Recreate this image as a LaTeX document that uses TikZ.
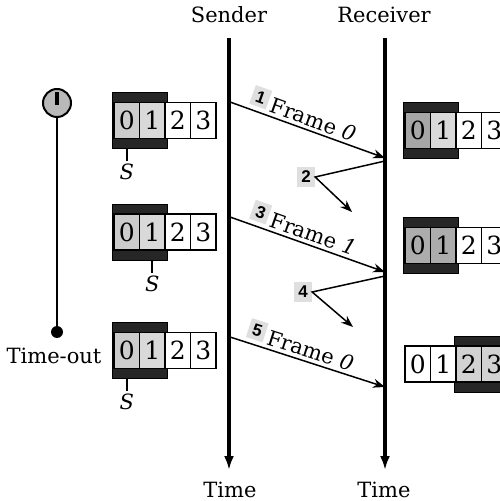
\documentclass[tikz,border=0pt]{standalone}
\usepackage{fontspec}
\setmainfont{DejaVu Serif}
\setsansfont{Liberation Sans}
\usetikzlibrary{arrows.meta}

\newcommand\numbadge[1]{{\setlength\fboxsep{2pt}\colorbox{gray!25}{\sffamily\bfseries\fontsize{8.5}{8.5}\selectfont #1}}}

\begin{document}
\begin{tikzpicture}[x=0.5pt, y=-0.5pt,
    cell/.style={draw, line width=0.8pt, minimum width=12.75pt, minimum height=18pt, inner sep=0pt, font=\fontsize{12.5}{12.5}\selectfont},
    win/.style={draw=black, fill=black!85},
    num/.style={fill=gray!25, inner sep=2pt, font=\sffamily\bfseries\fontsize{8.5}{8.5}\selectfont},
    lbl/.style={font=\fontsize{10.5}{12}\selectfont},
    msg/.style={-{Stealth[length=6pt, width=4.5pt]}, line width=0.75pt},
    timeline/.style={-{Latex[length=7pt, width=5pt]}, line width=1.6pt}]
    \useasboundingbox (0,0) rectangle (499,501);

    % 时间轴
    \node[lbl] (snd) at (229,15) {Sender};
    \node[lbl] (rcv) at (384,15) {Receiver};
    \node[lbl] (st) at (230,490) {Time};
    \node[lbl] (rt) at (384,490) {Time};
    \coordinate (s0) at (229,38);
    \coordinate (s1) at (229,470);
    \coordinate (r0) at (385,38);
    \coordinate (r1) at (385,470);
    \draw[timeline] (s0) -- (s1);
    \draw[timeline] (r0) -- (r1);

    % 计时器
    \node[circle, draw, line width=1pt, fill=gray!55, minimum size=14pt, inner sep=0pt] (clk) at (57,103) {};
    \draw[line width=1.6pt] ([yshift=-1pt]clk.center) -- ([yshift=-2pt]clk.north);
    \node[circle, fill, minimum size=6pt, inner sep=0pt] (tmo) at (57,332) {};
    \draw[line width=0.8pt] (clk) -- (tmo);
    \node[lbl] (tout) at (54,356) {Time-out};

    % 发送窗口
    \foreach \r/\y in {1/120.5, 2/232, 3/350.5} {
        \draw[win] (112,\y-28) rectangle (167,\y+28);
        \foreach \i/\c in {0/gray!40, 1/gray!30, 2/white, 3/white}
            \node[cell, fill=\c] (s\r\i) at ({126.75+25.5*\i},\y) {\i};
    }
    \foreach \r/\i in {1/0, 2/1, 3/0}
        \draw[line width=0.8pt] ([yshift=-5pt]s\r\i.south) -- ([yshift=-11pt]s\r\i.south)
            node[below, inner sep=1pt, lbl] (S\r) {\textit{S}};

    % 接收窗口
    \foreach \r/\y/\fx/\ca/\cb/\cc/\cd in {1/130.5/403/gray!70/gray!30/white/white,
            2/245.5/403/gray!65/gray!65/white/white,
            3/364/454/white/white/gray!35/gray!35} {
        \draw[win] (\fx,\y-28) rectangle (\fx+55,\y+28);
        \foreach \i/\c in {0/\ca, 1/\cb, 2/\cc, 3/\cd}
            \node[cell, fill=\c] (w\r\i) at ({417.75+25.5*\i},\y) {\i};
    }

    % 帧
    \coordinate (f1a) at (230,102);
    \coordinate (f1b) at (385,158);
    \coordinate (f3a) at (230,217);
    \coordinate (f3b) at (385,272);
    \coordinate (f5a) at (230,337);
    \coordinate (f5b) at (385,387);
    \draw[msg] (f1a) -- node[sloped, anchor=south west, pos=0.09, inner sep=1.5pt, lbl]
        (l1) {\raisebox{2.5pt}{\numbadge{1}}\,Frame \textit{0}} (f1b);
    \draw[msg] (f3a) -- node[sloped, anchor=south west, pos=0.09, inner sep=1.5pt, lbl]
        (l3) {\raisebox{2.5pt}{\numbadge{3}}\,Frame \textit{1}} (f3b);
    \draw[msg] (f5a) -- node[sloped, anchor=south west, pos=0.07, inner sep=1.5pt, lbl]
        (l5) {\raisebox{2.5pt}{\numbadge{5}}\,Frame \textit{0}} (f5b);

    % 确认（丢失）
    \coordinate (k2) at (385,161);
    \coordinate (k4) at (385,276);
    \node[num] (n2) at (306,177) {2};
    \node[num] (n4) at (303,292) {4};
    \coordinate (e2) at (352,212);
    \coordinate (e4) at (353,327);
    \draw[msg] (k2) -- (n2.east) -- (e2);
    \draw[msg] (k4) -- (n4.east) -- (e4);
\end{tikzpicture}
\end{document}
